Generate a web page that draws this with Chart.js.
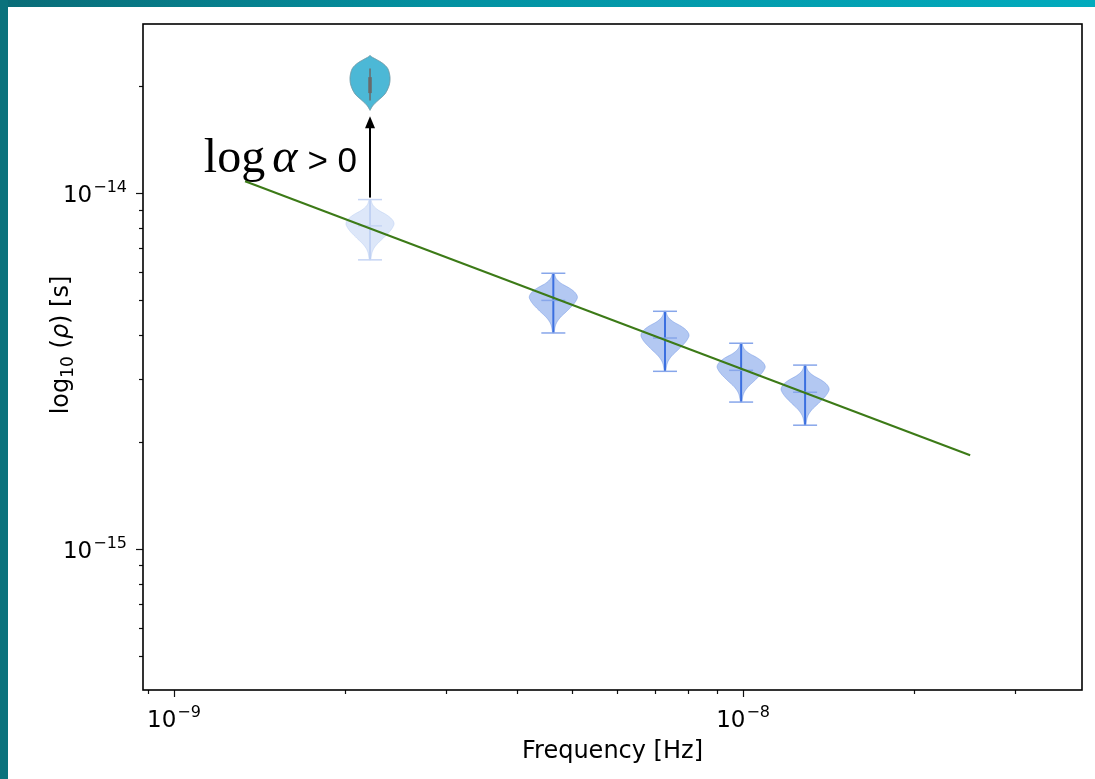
<!DOCTYPE html>
<html>
<head>
<meta charset="utf-8">
<title>Spectrum</title>
<script src="https://cdn.jsdelivr.net/npm/chart.js@4"></script>
<style>
  html, body { margin: 0; padding: 0; background: #fff; }
  #wrap { position: relative; width: 1095px; height: 779px; overflow: hidden; }
  #topbar { position: absolute; left: 0; top: 0; width: 1095px; height: 7px; background: linear-gradient(to right, #0a6c77, #0391a1 40%, #02abbd); }
  #sidebar { position: absolute; left: 0; top: 0; width: 8px; height: 779px; background: #0a727c; }
  canvas { position: absolute; left: 0; top: 0; }
</style>
</head>
<body>
<div id="wrap">
  <canvas id="spectrum" width="1095" height="779"></canvas>
  <div id="topbar"></div>
  <div id="sidebar"></div>
</div>
<script>
// frequency bins and posterior of rho (median, lower and upper extent)
var freqs = [2.21e-9, 4.64e-9, 7.29e-9, 9.92e-9, 1.285e-8];
var rhoMedian = [8.1e-15, 5.0e-15, 3.92e-15, 3.18e-15, 2.76e-15];
var rhoLow = [6.5e-15, 4.05e-15, 3.16e-15, 2.59e-15, 2.23e-15];
var rhoHigh = [9.6e-15, 5.96e-15, 4.66e-15, 3.79e-15, 3.29e-15];

// first bin when log alpha > 0
var shiftedFreq = [2.21e-9];
var shiftedMedian = [2.01e-14];
var shiftedLow = [1.71e-14];
var shiftedHigh = [2.44e-14];

// power-law fit
var fitFreq = [1.333e-9, 2.506e-8];
var fitRho = [1.081e-14, 1.836e-15];

// axes
var xRange = [8.82e-10, 3.94e-8];
var yRange = [4.02e-16, 2.99e-14];
var xMajor = [1e-9, 1e-8];
var xMajorExp = ['−9', '−8'];
var xMinor = [9e-10, 2e-9, 3e-9, 4e-9, 5e-9, 6e-9, 7e-9, 8e-9, 9e-9, 2e-8, 3e-8];
var yMajor = [1e-15, 1e-14];
var yMajorExp = ['−15', '−14'];
var yMinor = [5e-16, 6e-16, 7e-16, 8e-16, 9e-16, 2e-15, 3e-15, 4e-15, 5e-15, 6e-15, 7e-15, 8e-15, 9e-15, 2e-14];

// half-width profile of a violin, from bottom (t=0) to top (t=1)
var bodyShape = [[0, 0.03], [0.14, 0.1], [0.25, 0.27], [0.36, 0.55], [0.47, 0.82], [0.55, 0.96],
                 [0.61, 1.0], [0.68, 0.9], [0.75, 0.68], [0.83, 0.33], [0.91, 0.12], [1, 0.04]];
var dropShape = [[0, 0], [0.09, 0.15], [0.18, 0.4], [0.3, 0.75], [0.45, 0.95], [0.58, 1.0],
                 [0.7, 0.95], [0.78, 0.85], [0.86, 0.62], [0.93, 0.3], [0.97, 0.1], [1, 0]];

// Catmull-Rom pass through the profile so the outline stays smooth
function sampleShape(shape, steps) {
  var out = [];
  for (var i = 0; i < shape.length - 1; i++) {
    var p0 = shape[Math.max(i - 1, 0)], p1 = shape[i], p2 = shape[i + 1], p3 = shape[Math.min(i + 2, shape.length - 1)];
    for (var s = 0; s < steps; s++) {
      var u = s / steps, u2 = u * u, u3 = u2 * u;
      var pt = [0, 1].map(function (k) {
        return 0.5 * (2 * p1[k] + (-p0[k] + p2[k]) * u + (2 * p0[k] - 5 * p1[k] + 4 * p2[k] - p3[k]) * u2 +
          (-p0[k] + 3 * p1[k] - 3 * p2[k] + p3[k]) * u3);
      });
      out.push([pt[0], Math.max(pt[1], 0)]);
    }
  }
  out.push(shape[shape.length - 1]);
  return out;
}

function violinPath(ctx, x, yBot, yTop, halfW, shape) {
  var pts = sampleShape(shape, 10), i, y;
  ctx.beginPath();
  for (i = 0; i < pts.length; i++) {
    y = yBot + (yTop - yBot) * pts[i][0];
    if (i === 0) ctx.moveTo(x + pts[i][1] * halfW, y); else ctx.lineTo(x + pts[i][1] * halfW, y);
  }
  for (i = pts.length - 1; i >= 0; i--) {
    y = yBot + (yTop - yBot) * pts[i][0];
    ctx.lineTo(x - pts[i][1] * halfW, y);
  }
  ctx.closePath();
}

function hline(ctx, x, y, half) {
  ctx.beginPath();
  ctx.moveTo(x - half, y);
  ctx.lineTo(x + half, y);
  ctx.stroke();
}

var violinPlugin = {
  id: 'violins',
  beforeDatasetsDraw: function (chart) {
    var ctx = chart.ctx, xs = chart.scales.x, ys = chart.scales.y;
    ctx.save();
    for (var i = 0; i < freqs.length; i++) {
      var faded = i === 0;
      var x = xs.getPixelForValue(freqs[i]);
      var yl = ys.getPixelForValue(rhoLow[i]);
      var yh = ys.getPixelForValue(rhoHigh[i]);
      var ym = ys.getPixelForValue(rhoMedian[i]);
      violinPath(ctx, x, yl, yh, 24, bodyShape);
      ctx.fillStyle = faded ? 'rgba(175,198,240,0.42)' : 'rgba(110,150,230,0.52)';
      ctx.fill();
      ctx.lineWidth = 1;
      ctx.strokeStyle = faded ? 'rgba(175,198,240,0.42)' : 'rgba(100,140,225,0.45)';
      ctx.stroke();

      ctx.strokeStyle = faded ? '#b9ccf2' : '#3b6fe0';
      ctx.lineWidth = faded ? 1.5 : 2;
      ctx.beginPath();
      ctx.moveTo(x, yl);
      ctx.lineTo(x, yh);
      ctx.stroke();

      ctx.strokeStyle = faded ? '#c6d5f4' : '#87a6ea';
      ctx.lineWidth = 1.5;
      hline(ctx, x, yl, 12);
      hline(ctx, x, yh, 12);
      hline(ctx, x, ym, 12);
    }

    // shifted bin
    var sx = xs.getPixelForValue(shiftedFreq[0]);
    var sl = ys.getPixelForValue(shiftedLow[0]);
    var sh = ys.getPixelForValue(shiftedHigh[0]);
    var sm = ys.getPixelForValue(shiftedMedian[0]);
    violinPath(ctx, sx, sl, sh, 20, dropShape);
    ctx.fillStyle = '#4cb8d6';
    ctx.fill();
    ctx.strokeStyle = '#6c98a6';
    ctx.lineWidth = 1;
    ctx.stroke();
    var span = sl - sh;
    ctx.strokeStyle = '#6a6a6a';
    ctx.lineWidth = 1.5;
    ctx.beginPath();
    ctx.moveTo(sx, sl - span * 0.18);
    ctx.lineTo(sx, sl - span * 0.76);
    ctx.stroke();
    ctx.lineWidth = 3.5;
    ctx.beginPath();
    ctx.moveTo(sx, sm + span * 0.14);
    ctx.lineTo(sx, sm - span * 0.15);
    ctx.stroke();

    // arrow from the first bin up to the shifted one
    var y0 = ys.getPixelForValue(rhoHigh[0]) - 2;
    var tip = sl + 6;
    ctx.strokeStyle = '#000';
    ctx.fillStyle = '#000';
    ctx.lineWidth = 2;
    ctx.beginPath();
    ctx.moveTo(sx, y0);
    ctx.lineTo(sx, tip + 10);
    ctx.stroke();
    ctx.beginPath();
    ctx.moveTo(sx, tip);
    ctx.lineTo(sx - 5, tip + 12);
    ctx.lineTo(sx + 5, tip + 12);
    ctx.closePath();
    ctx.fill();

    // annotation
    var base = y0 - 26;
    var right = sx - 13;
    ctx.textBaseline = 'alphabetic';
    ctx.textAlign = 'left';
    ctx.font = '35px "Liberation Sans", Arial, sans-serif';
    var cmp = '> 0';
    var wCmp = ctx.measureText(cmp).width;
    ctx.fillText(cmp, right - wCmp, base);
    ctx.font = 'italic 48px "Liberation Serif", serif';
    var wA = ctx.measureText('α').width;
    var xA = right - wCmp - 10 - wA;
    ctx.fillText('α', xA, base);
    ctx.font = '48px "Liberation Serif", serif';
    var wLog = ctx.measureText('log').width;
    ctx.fillText('log', xA - 7 - wLog, base);
    ctx.restore();
  }
};

// draws "10" with a raised exponent; align is 'center' or 'right'
function powerLabel(ctx, exp, x, baseline, align) {
  ctx.font = '23px "DejaVu Sans"';
  var wBase = ctx.measureText('10').width;
  ctx.font = '16px "DejaVu Sans"';
  var wExp = ctx.measureText(exp).width;
  var total = wBase + 1 + wExp;
  var left = align === 'right' ? x - total : x - total / 2;
  ctx.font = '23px "DejaVu Sans"';
  ctx.fillText('10', left, baseline);
  ctx.font = '16px "DejaVu Sans"';
  ctx.fillText(exp, left + wBase + 1, baseline - 10);
}

var framePlugin = {
  id: 'frame',
  afterDraw: function (chart) {
    var ctx = chart.ctx, a = chart.chartArea, xs = chart.scales.x, ys = chart.scales.y;
    ctx.save();
    ctx.strokeStyle = '#111';
    ctx.lineWidth = 1.2;
    xMajor.concat(xMinor).forEach(function (v) {
      var len = xMajor.indexOf(v) >= 0 ? 7 : 4;
      var px = Math.round(xs.getPixelForValue(v)) + 0.5;
      ctx.beginPath();
      ctx.moveTo(px, a.bottom);
      ctx.lineTo(px, a.bottom + len);
      ctx.stroke();
    });
    yMajor.concat(yMinor).forEach(function (v) {
      var len = yMajor.indexOf(v) >= 0 ? 7 : 4;
      var py = Math.round(ys.getPixelForValue(v)) + 0.5;
      ctx.beginPath();
      ctx.moveTo(a.left, py);
      ctx.lineTo(a.left - len, py);
      ctx.stroke();
    });
    ctx.lineWidth = 1.6;
    ctx.strokeStyle = '#000';
    ctx.strokeRect(a.left, a.top, a.right - a.left, a.bottom - a.top);

    // tick labels
    ctx.fillStyle = '#000';
    ctx.textAlign = 'left';
    ctx.textBaseline = 'alphabetic';
    xMajor.forEach(function (v, i) {
      powerLabel(ctx, xMajorExp[i], xs.getPixelForValue(v), a.bottom + 37, 'center');
    });
    yMajor.forEach(function (v, i) {
      powerLabel(ctx, yMajorExp[i], a.left - 16, ys.getPixelForValue(v) + 9, 'right');
    });

    // y title: log10(rho) [s]
    var parts = [
      ['log', '24px "DejaVu Sans"', 0],
      ['10', '17px "DejaVu Sans"', 5],
      [' (', '24px "DejaVu Sans"', 0],
      ['ρ', 'oblique 24px "DejaVu Sans"', 0],
      [') [s]', '24px "DejaVu Sans"', 0]
    ];
    var widths = parts.map(function (p) { ctx.font = p[1]; return ctx.measureText(p[0]).width; });
    var total = widths.reduce(function (s, w) { return s + w; }, 0);
    ctx.translate(68, (a.top + a.bottom) / 2 - 12);
    ctx.rotate(-Math.PI / 2);
    var cx = -total / 2;
    parts.forEach(function (p, i) {
      ctx.font = p[1];
      ctx.fillText(p[0], cx, p[2]);
      cx += widths[i];
    });
    ctx.restore();
  }
};

new Chart(document.getElementById('spectrum'), {
  type: 'scatter',
  data: {
    datasets: [{
      label: 'fit',
      data: fitFreq.map(function (f, i) { return { x: f, y: fitRho[i] }; }),
      showLine: true,
      borderColor: '#3c7a17',
      borderWidth: 2,
      pointRadius: 0,
      fill: false
    }]
  },
  options: {
    responsive: false,
    animation: false,
    devicePixelRatio: 1,
    layout: { padding: { top: 24, right: 13, left: 0, bottom: 0 } },
    plugins: { legend: { display: false }, tooltip: { enabled: false } },
    scales: {
      x: {
        type: 'logarithmic',
        min: xRange[0],
        max: xRange[1],
        afterBuildTicks: function (s) {
          s.ticks = xMajor.concat(xMinor).sort(function (a, b) { return a - b; })
            .map(function (v) { return { value: v }; });
        },
        afterFit: function (s) { s.height = 89; },
        ticks: { display: false },
        grid: { display: false },
        border: { display: false },
        title: { display: true, text: 'Frequency [Hz]', color: '#000', font: { family: 'DejaVu Sans', size: 24 }, padding: { top: 0, bottom: 13 } }
      },
      y: {
        type: 'logarithmic',
        min: yRange[0],
        max: yRange[1],
        afterBuildTicks: function (s) {
          s.ticks = yMajor.concat(yMinor).sort(function (a, b) { return a - b; })
            .map(function (v) { return { value: v }; });
        },
        afterFit: function (s) { s.width = 143; },
        ticks: { display: false },
        grid: { display: false },
        border: { display: false },
        title: { display: false }
      }
    }
  },
  plugins: [violinPlugin, framePlugin]
});
</script>
</body>
</html>
